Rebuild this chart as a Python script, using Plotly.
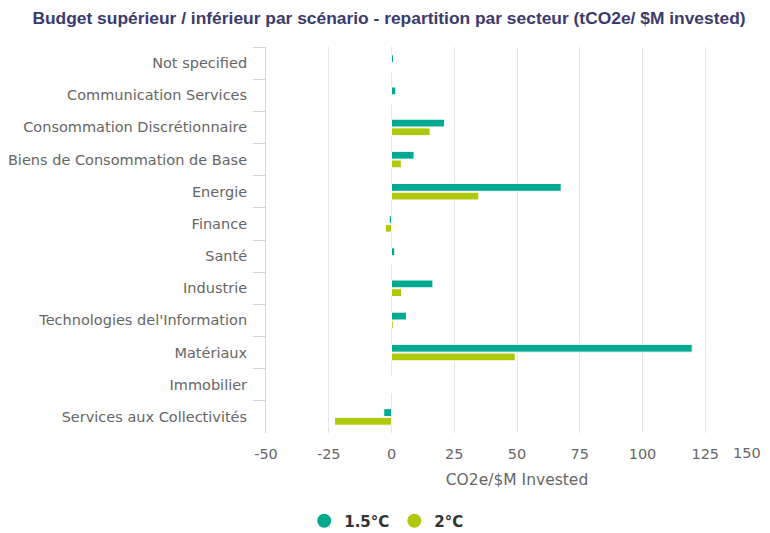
import plotly.graph_objects as go

sectors = ["Not specified", "Communication Services", "Consommation Discrétionnaire",
           "Biens de Consommation de Base", "Energie", "Finance", "Santé", "Industrie",
           "Technologies del'Information", "Matériaux", "Immobilier",
           "Services aux Collectivités"]
scen_15 = [0.8, 1.7, 21.1, 9.0, 67.6, -0.9, 1.3, 16.5, 6.0, 119.8, 0.1, -3.1]
scen_2 = [0.1, 0.2, 15.4, 3.9, 34.8, -2.4, 0.1, 4.0, 0.7, 49.3, 0.1, -22.7]
x_ticks = [-50, -25, 0, 25, 50, 75, 100, 125, 150]

teal = "#00a98f"
lime = "#b0c80a"

fig = go.Figure()
fig.add_trace(go.Bar(y=sectors, x=scen_15, orientation="h", name="1.5°C",
                     marker=dict(color=teal, line=dict(color="white", width=1)),
                     showlegend=False, hovertemplate="%{y}: %{x}<extra>1.5°C</extra>"))
fig.add_trace(go.Bar(y=sectors, x=scen_2, orientation="h", name="2°C",
                     marker=dict(color=lime, line=dict(color="white", width=1)),
                     showlegend=False, hovertemplate="%{y}: %{x}<extra>2°C</extra>"))
# legend entries drawn as circles
for name, col in [("1.5°C", teal), ("2°C", lime)]:
    fig.add_trace(go.Scatter(x=[None], y=[None], mode="markers", name=name,
                             marker=dict(color=col, size=14, symbol="circle",
                                         line=dict(color=col, width=2))))

# last tick label sits at the right edge, so pull it inside like the original
tick_text = [str(v) for v in x_ticks[:-1]] + [""]
fig.add_annotation(x=x_ticks[-1], xref="x", y=0, yref="paper", yshift=-20, xshift=-5,
                   xanchor="right", yanchor="middle", showarrow=False,
                   text=str(x_ticks[-1]), font=dict(size=14.5, color="#666666"))

# page body has an 8px margin, so the figure is 8px smaller each way
fig.update_layout(
    width=762, height=525,
    paper_bgcolor="white", plot_bgcolor="white",
    margin=dict(l=258, r=2, t=39, b=100, autoexpand=False),
    barmode="group", bargap=0.46, bargroupgap=0.1,
    title=dict(text="Budget supérieur / inférieur par scénario - repartition par secteur (tCO2e/ $M invested)",
               x=0.5, xref="container", xanchor="center", y=0.981, yanchor="middle",
               font=dict(family="Liberation Sans, Arial", size=17.4, color="#3b3b6d", weight="bold")),
    font=dict(family="DejaVu Sans", size=14, color="#666666"),
    legend=dict(orientation="h", x=0.497, xref="container", xanchor="center",
                y=-0.228, yanchor="middle",
                font=dict(size=15, color="#333333", family="DejaVu Sans", weight="bold"),
                itemsizing="constant"),
)
fig.update_xaxes(range=[-50, 150], tickvals=x_ticks, ticktext=tick_text,
                 showgrid=True, gridcolor="#e6e6e6",
                 gridwidth=1, zeroline=False, showline=False, ticks="", automargin=False,
                 ticklabelstandoff=10,
                 title=dict(text="CO2e/$M Invested", font=dict(size=15.5, color="#666666"), standoff=13),
                 tickfont=dict(size=14.5, color="#666666"), fixedrange=True)
fig.update_yaxes(autorange="reversed", showgrid=False, showline=True, linecolor="#ccd6eb",
                 ticks="outside", ticklen=12, tickcolor="#ccd6eb", tickson="boundaries",
                 automargin=False, ticklabelstandoff=15,
                 tickfont=dict(size=14.5, color="#666666"), fixedrange=True)

fig.write_html("out.html")
